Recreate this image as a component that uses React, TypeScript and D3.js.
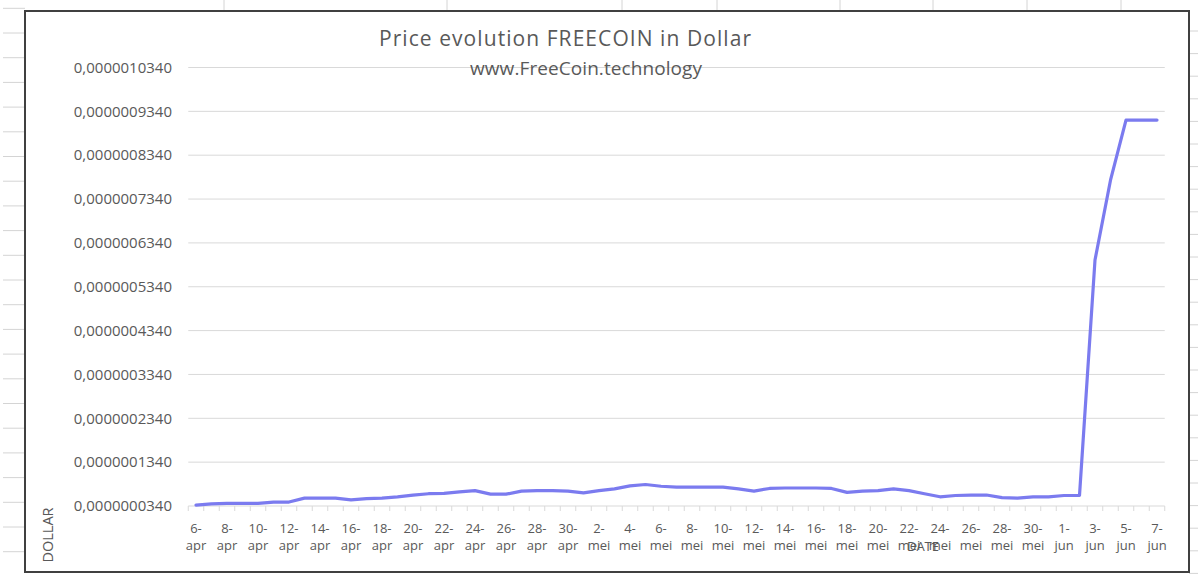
import React from "react";
import * as d3 from "d3";

// ---- DATA ----
const categories: string[] = [
  "6-apr","7-apr","8-apr","9-apr","10-apr","11-apr","12-apr","13-apr","14-apr","15-apr",
  "16-apr","17-apr","18-apr","19-apr","20-apr","21-apr","22-apr","23-apr","24-apr","25-apr",
  "26-apr","27-apr","28-apr","29-apr","30-apr",
  "1-mei","2-mei","3-mei","4-mei","5-mei","6-mei","7-mei","8-mei","9-mei","10-mei",
  "11-mei","12-mei","13-mei","14-mei","15-mei","16-mei","17-mei","18-mei","19-mei","20-mei",
  "21-mei","22-mei","23-mei","24-mei","25-mei","26-mei","27-mei","28-mei","29-mei","30-mei","31-mei",
  "1-jun","2-jun","3-jun","4-jun","5-jun","6-jun","7-jun",
];

// price in dollars
const prices: number[] = [
  3.6e-8, 3.9e-8, 4.0e-8, 4.0e-8, 4.0e-8, 4.3e-8, 4.3e-8, 5.2e-8, 5.2e-8, 5.2e-8,
  4.8e-8, 5.1e-8, 5.2e-8, 5.5e-8, 5.9e-8, 6.2e-8, 6.3e-8, 6.6e-8, 6.9e-8, 6.1e-8,
  6.1e-8, 6.8e-8, 6.9e-8, 6.9e-8, 6.8e-8,
  6.4e-8, 6.9e-8, 7.3e-8, 8.0e-8, 8.3e-8, 7.9e-8, 7.7e-8, 7.7e-8, 7.7e-8, 7.7e-8,
  7.3e-8, 6.8e-8, 7.4e-8, 7.5e-8, 7.5e-8, 7.5e-8, 7.4e-8, 6.5e-8, 6.8e-8, 6.9e-8,
  7.3e-8, 6.9e-8, 6.2e-8, 5.5e-8, 5.8e-8, 5.9e-8, 5.9e-8, 5.3e-8, 5.2e-8, 5.5e-8, 5.5e-8,
  5.8e-8, 5.8e-8, 5.95e-7, 7.77e-7, 9.14e-7, 9.14e-7, 9.14e-7,
];

const yTicks: number[] = [
  3.4e-8, 1.34e-7, 2.34e-7, 3.34e-7, 4.34e-7, 5.34e-7, 6.34e-7, 7.34e-7, 8.34e-7, 9.34e-7, 1.034e-6,
];

const titleLine1 = "Price evolution FREECOIN in Dollar";
const titleLine2 = "www.FreeCoin.technology";
const xAxisTitle = "DATE";
const yAxisTitle = "DOLLAR";

// ---- LAYOUT ----
const W = 1198;
const H = 574;
const plotLeft = 188.25;
const plotRight = 1164.75;
const plotTop = 67.5;
const plotBottom = 506;

const FONT = "'Open Sans', 'Liberation Sans', sans-serif";
const TEXT = "#595959";
const GRID = "#d9d9d9";
const LINE = "#7b7bef";

export default function App() {
  const x = d3.scaleBand<string>().domain(categories).range([plotLeft, plotRight]).padding(0);
  const y = d3.scaleLinear().domain([3.4e-8, 1.034e-6]).range([plotBottom, plotTop]);
  const cx = (c: string) => (x(c) as number) + x.bandwidth() / 2;

  const lineGen = d3
    .line<number>()
    .x((_, i) => cx(categories[i]))
    .y((d) => y(d));

  const fmt = (v: number) => v.toFixed(10).replace(".", ",");

  // spreadsheet background lines
  const topCols = [224, 447, 622, 717, 840, 933, 1027, 1121];
  const leftRows = d3.range(0, 23).map((k) => 8.3 + 24.7 * k);
  const rightRows = d3.range(0, 25).map((k) => 31 + 22.6 * k);

  return (
    <div style={{ position: "absolute", left: 0, top: 0, width: W, height: H }}>
      <svg width={W} height={H} style={{ display: "block" }}>
        <rect x={0} y={0} width={W} height={H} fill="#ffffff" />
        {topCols.map((cxp, i) => (
          <line key={"tc" + i} x1={cxp} x2={cxp} y1={0} y2={11} stroke="#d4d4d4" strokeWidth={1} />
        ))}
        {leftRows.map((ry, i) => (
          <line key={"lr" + i} x1={3} x2={25} y1={ry} y2={ry} stroke="#d4d4d4" strokeWidth={1} />
        ))}
        {rightRows.map((ry, i) => (
          <line key={"rr" + i} x1={1189} x2={1198} y1={ry} y2={ry} stroke="#d4d4d4" strokeWidth={1} />
        ))}

        {/* chart area */}
        <rect x={25} y={11} width={1164} height={561} fill="#ffffff" stroke="#404040" strokeWidth={2} />

        {/* gridlines */}
        {yTicks.slice(1).map((t, i) => (
          <line key={"g" + i} x1={plotLeft} x2={plotRight} y1={y(t)} y2={y(t)} stroke={GRID} strokeWidth={1} />
        ))}
        {/* axis line */}
        <line x1={plotLeft} x2={plotRight} y1={y(yTicks[0])} y2={y(yTicks[0])} stroke={GRID} strokeWidth={1} />
        {/* ticks at category boundaries */}
        {categories.map((c, i) => (
          <line key={"t" + i} x1={x(c) as number} x2={x(c) as number} y1={plotBottom} y2={plotBottom + 5} stroke={GRID} strokeWidth={1} />
        ))}
        <line x1={plotRight} x2={plotRight} y1={plotBottom} y2={plotBottom + 5} stroke={GRID} strokeWidth={1} />

        {/* y labels */}
        {yTicks.map((t, i) => (
          <text key={"yl" + i} x={172} y={y(t)} dy="0.35em" textAnchor="end" fontFamily={FONT} fontSize={15} fill={TEXT}>
            {fmt(t)}
          </text>
        ))}

        {/* x labels */}
        {categories.map((c, i) => {
          if (i % 2 !== 0) return null;
          const [d, m] = c.split("-");
          return (
            <text key={"xl" + i} x={cx(c)} textAnchor="middle" fontFamily={FONT} fontSize={13} fill={TEXT}>
              <tspan x={cx(c)} y={533}>{d + "-"}</tspan>
              <tspan x={cx(c)} y={550}>{m}</tspan>
            </text>
          );
        })}

        {/* series */}
        <path d={lineGen(prices) || ""} fill="none" stroke={LINE} strokeWidth={3.2} strokeLinejoin="round" strokeLinecap="round" />

        {/* titles */}
        <text x={379} y={46} textLength={372} lengthAdjust="spacing" fontFamily={FONT} fontSize={21} fill={TEXT}>{titleLine1}</text>
        <text x={470} y={75} textLength={232} lengthAdjust="spacing" fontFamily={FONT} fontSize={19} fill={TEXT}>{titleLine2}</text>

        <text x={923} y={551} textAnchor="middle" fontFamily={FONT} fontSize={13} fill={TEXT}>{xAxisTitle}</text>
        <text transform="translate(53,535) rotate(-90)" textAnchor="middle" fontFamily={FONT} fontSize={14.5} fill={TEXT}>{yAxisTitle}</text>
      </svg>
    </div>
  );
}
